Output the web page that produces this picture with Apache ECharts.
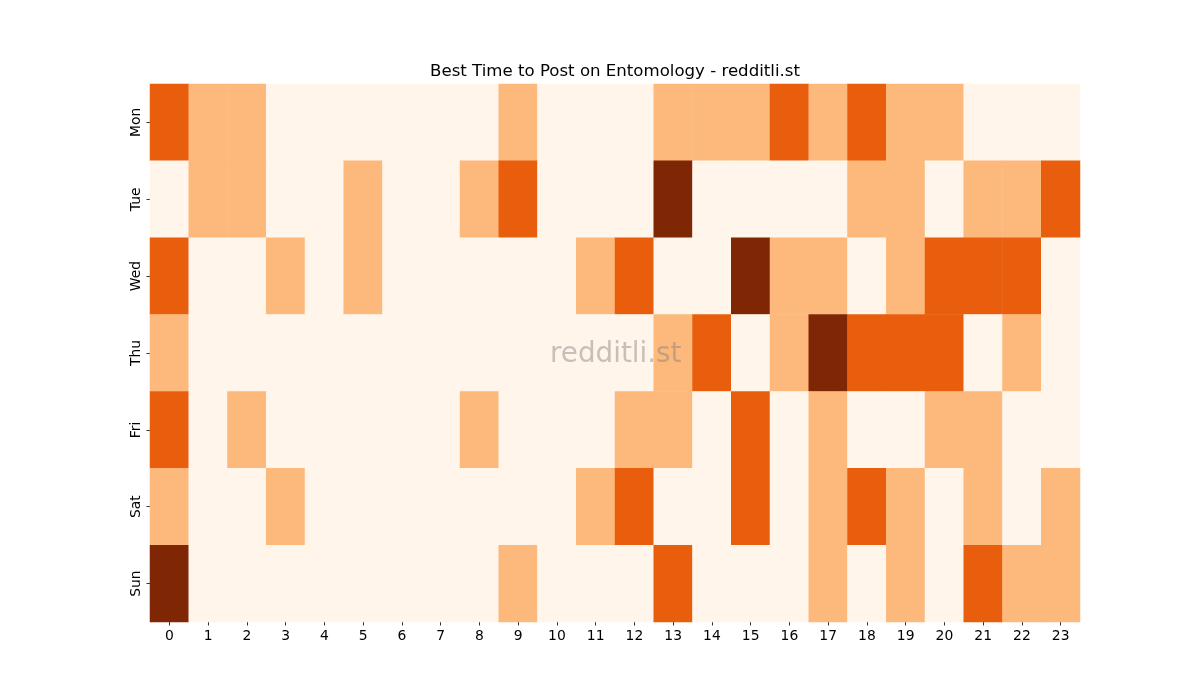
<!DOCTYPE html>
<html>
<head>
<meta charset="utf-8">
<script src="https://cdn.jsdelivr.net/npm/echarts@6/dist/echarts.min.js"></script>
<style>html,body{margin:0;padding:0;background:#fff}#c{width:1200px;height:700px}</style>
</head>
<body>
<div id="c"></div>
<script>
const hours = ['0','1','2','3','4','5','6','7','8','9','10','11','12','13','14','15','16','17','18','19','20','21','22','23'];
const days = ['Mon','Tue','Wed','Thu','Fri','Sat','Sun'];
const mon = [2,1,1,0,0,0,0,0,0,1,0,0,0,1,1,1,2,1,2,1,1,0,0,0];
const tue = [0,1,1,0,0,1,0,0,1,2,0,0,0,3,0,0,0,0,1,1,0,1,1,2];
const wed = [2,0,0,1,0,1,0,0,0,0,0,1,2,0,0,3,1,1,0,1,2,2,2,0];
const thu = [1,0,0,0,0,0,0,0,0,0,0,0,0,1,2,0,1,3,2,2,2,0,1,0];
const fri = [2,0,1,0,0,0,0,0,1,0,0,0,1,1,0,2,0,1,0,0,1,1,0,0];
const sat = [1,0,0,1,0,0,0,0,0,0,0,1,2,0,0,2,0,1,2,1,0,1,0,1];
const sun = [3,0,0,0,0,0,0,0,0,1,0,0,0,2,0,0,0,1,0,1,0,2,1,1];
const rows = [mon,tue,wed,thu,fri,sat,sun];
const levelColors = ['#fff5eb','#fdb87c','#e95e0d','#7f2704'];

const data = [];
rows.forEach((r, y) => r.forEach((v, x) => data.push([x, y, v])));

const font = 'DejaVu Sans';
const chart = echarts.init(document.getElementById('c'));
chart.setOption({
  backgroundColor: '#ffffff',
  animation: false,
  title: {
    text: 'Best Time to Post on Entomology - redditli.st',
    left: 610,
    textAlign: 'center',
    top: 58,
    textStyle: {fontFamily: font, fontSize: 16.6, fontWeight: 'normal', color: '#000'}
  },
  grid: {left: 150, right: 120, top: 84, bottom: 78},
  xAxis: {
    type: 'category',
    data: hours,
    axisLine: {show: false},
    axisTick: {show: true, alignWithLabel: true, length: 3.5, lineStyle: {color: '#000', width: 0.8}},
    axisLabel: {fontFamily: font, fontSize: 13.9, color: '#000', margin: 7, interval: 0},
    splitArea: {show: false},
    splitLine: {show: false}
  },
  yAxis: {
    type: 'category',
    data: days,
    inverse: true,
    axisLine: {show: false},
    axisTick: {show: true, alignWithLabel: true, length: 3.5, lineStyle: {color: '#000', width: 0.8}},
    axisLabel: {fontFamily: font, fontSize: 13.9, color: '#000', margin: 7, rotate: 90, interval: 0},
    splitArea: {show: false},
    splitLine: {show: false}
  },
  visualMap: {
    type: 'piecewise',
    show: false,
    dimension: 2,
    pieces: levelColors.map((c, i) => ({value: i, color: c}))
  },
  series: [{
    type: 'heatmap',
    data: data,
    itemStyle: {borderWidth: 0},
    emphasis: {disabled: true}
  }],
  graphic: [{
    type: 'text',
    left: 550,
    top: 341,
    z: 100,
    style: {
      text: 'redditli.st',
      fontFamily: font,
      fontSize: 27.8,
      fill: 'rgba(128,128,128,0.45)'
    }
  }]
});
</script>
</body>
</html>
